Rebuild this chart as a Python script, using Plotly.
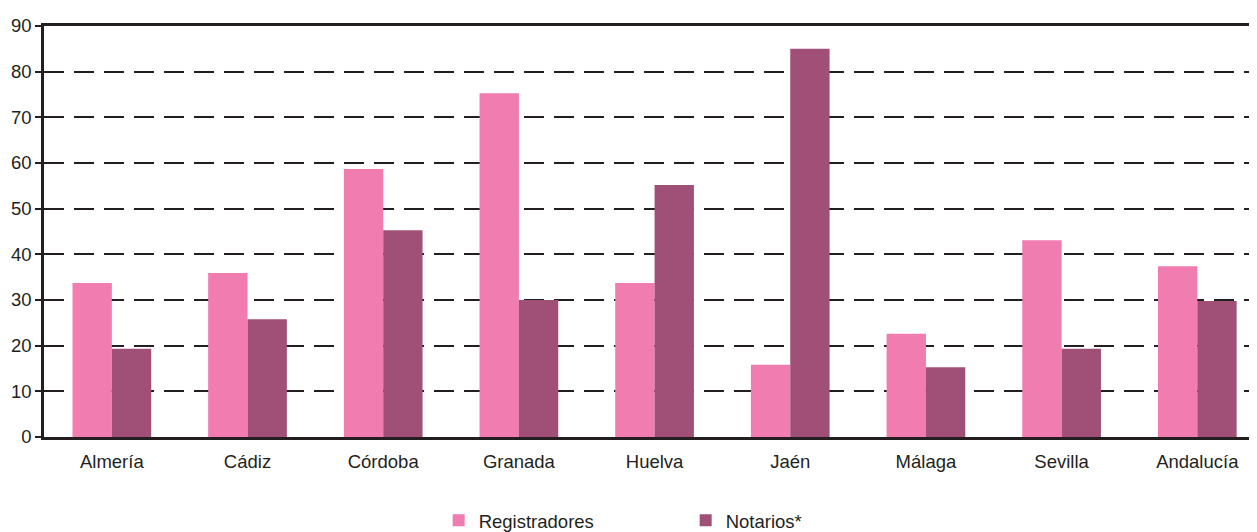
import plotly.graph_objects as go

categories = ["Almería", "Cádiz", "Córdoba", "Granada", "Huelva", "Jaén", "Málaga", "Sevilla", "Andalucía"]
registradores = [33.7, 35.9, 58.7, 75.3, 33.7, 15.8, 22.6, 43.1, 37.4]
notarios = [19.3, 25.8, 45.3, 30.0, 55.2, 85.0, 15.3, 19.3, 29.8]
y_ticks = [0, 10, 20, 30, 40, 50, 60, 70, 80, 90]

FONT = "Liberation Sans, Arial, Helvetica, sans-serif"

fig = go.Figure()
fig.add_trace(go.Bar(x=categories, y=registradores, name="Registradores",
                     marker=dict(color="#F07CB0", line=dict(width=0))))
fig.add_trace(go.Bar(x=categories, y=notarios, name="Notarios*",
                     marker=dict(color="#A05077", line=dict(width=0))))

fig.update_layout(
    width=1257, height=532,
    margin=dict(l=36, r=8, t=18, b=103, autoexpand=False),
    paper_bgcolor="white", plot_bgcolor="white",
    barmode="group", bargap=0.42, bargroupgap=0,
    font=dict(family=FONT, size=18.5, color="#231f20"),
    showlegend=True,
    legend=dict(orientation="h", x=0.529, xanchor="center", y=0.036, yanchor="middle",
                yref="container", font=dict(size=18.5), entrywidth=202,
                traceorder="normal"),
    xaxis=dict(range=[-0.5, 8.44], showline=True, linecolor="#231f20", linewidth=2.5,
               mirror=True, showgrid=False, ticks="", ticklabelstandoff=6,
               automargin=False, tickfont=dict(size=18.5)),
    yaxis=dict(range=[0, 90], tickvals=y_ticks, showline=True, linecolor="#231f20",
               linewidth=2.5, ticks="outside", ticklen=6, tickwidth=2, tickcolor="#231f20",
               showgrid=True, gridcolor="#231f20", gridwidth=2, griddash="20px,10px",
               zeroline=False, automargin=False, tickfont=dict(size=18.5)),
)

fig.write_html("out.html")
